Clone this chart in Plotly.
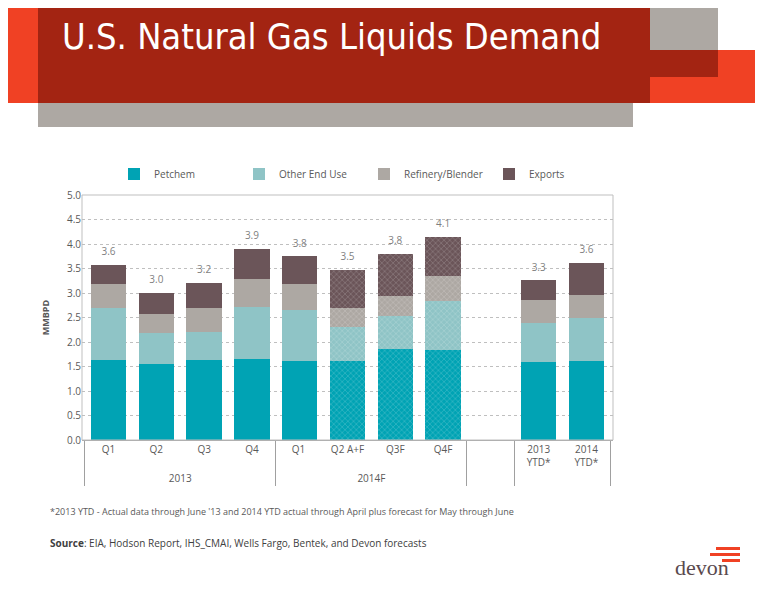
import plotly.graph_objects as go

# data
groups = ["2013"] * 4 + ["2014F"] * 4 + [" "] + ["  "] * 2
quarters = ["Q1", "Q2", "Q3", "Q4", "Q1 ", "Q2 A+F", "Q3F", "Q4F", "", "2013<br>YTD*", "2014<br>YTD*"]
petchem = [1.64, 1.56, 1.64, 1.66, 1.61, 1.61, 1.85, 1.84, None, 1.60, 1.62]
other_end_use = [1.05, 0.62, 0.57, 1.05, 1.05, 0.69, 0.69, 1.00, None, 0.79, 0.86]
refinery = [0.50, 0.40, 0.48, 0.58, 0.52, 0.40, 0.40, 0.51, None, 0.46, 0.47]
exports = [0.38, 0.42, 0.51, 0.61, 0.57, 0.77, 0.86, 0.80, None, 0.41, 0.66]
totals = ["3.6", "3.0", "3.2", "3.9", "3.8", "3.5", "3.8", "4.1", "", "3.3", "3.6"]
forecast = [False, False, False, False, False, True, True, True, False, False, False]

OFF = 8  # page body margin
W, H = 776 - OFF, 600 - OFF
L, R, T, B = 82 - OFF, 613 - OFF, 195 - OFF, 440 - OFF  # plot area in figure pixels


def px(x):
    return (x - OFF - L) / (R - L)


def py(y):
    return (B - (y - OFF)) / (B - T)


fig = go.Figure()
series = [("Petchem", petchem, "#00A3B4"), ("Other End Use", other_end_use, "#8FC4C6"),
          ("Refinery/Blender", refinery, "#ADA8A3"), ("Exports", exports, "#6B5559")]
shapes_pat = ["x" if f else "" for f in forecast]
for name, vals, col in series:
    fig.add_trace(go.Bar(
        x=[groups, quarters], y=vals, name=name,
        marker=dict(color=col, line=dict(width=0),
                    pattern=dict(shape=shapes_pat, fgcolor="white", size=4, solidity=0.15)),
        width=0.74,
    ))

tops = [sum(v for v in (a, b, c, d) if v is not None) if a is not None else 0
        for a, b, c, d in zip(petchem, other_end_use, refinery, exports)]
fig.add_trace(go.Scatter(x=[groups, quarters], y=[t + 0.25 for t in tops], text=totals,
                         mode="text", textfont=dict(color="#7F7F7F", size=10),
                         showlegend=False, hoverinfo="skip"))

shapes = [
    dict(x0=640, x1=755, y0=50, y1=103, color="#F04124"),
    dict(x0=0, x1=40, y0=8, y1=103, color="#F04124"),
    dict(x0=38, x1=633, y0=100, y1=127, color="#ADA8A3"),
    dict(x0=650, x1=718, y0=8, y1=77, color="#ADA8A3"),
    dict(x0=38, x1=650, y0=8, y1=103, color="#A32412"),
    dict(x0=640, x1=718, y0=50, y1=77, color="#A32412"),
    dict(x0=716, x1=740, y0=547, y1=550, color="#F04124"),
    dict(x0=710, x1=740, y0=553, y1=556, color="#F04124"),
    dict(x0=722, x1=740, y0=559, y1=562, color="#F04124"),
]
for s in shapes:
    fig.add_shape(type="rect", xref="paper", yref="paper", x0=px(s["x0"]), x1=px(s["x1"]),
                  y0=py(s["y1"]), y1=py(s["y0"]), fillcolor=s["color"], line=dict(width=0),
                  layer="below")
fig.add_shape(type="rect", xref="paper", yref="paper", x0=0, x1=1, y0=0, y1=1,
              line=dict(color="#BFBFBF", width=1))

fig.add_annotation(x=px(60), y=py(36), xref="paper", yref="paper", text="U.S. Natural Gas Liquids Demand",
                   showarrow=False, xanchor="left", yanchor="middle",
                   font=dict(family="DejaVu Sans Condensed, Open Sans", size=36, color="white"))
fig.add_annotation(x=px(48), y=py(520), xref="paper", yref="paper",
                   text="*2013 YTD - Actual data through June '13 and 2014 YTD actual through April plus forecast for May through June",
                   showarrow=False, xanchor="left", font=dict(size=9, color="#595959"))
fig.add_annotation(x=px(48), y=py(552), xref="paper", yref="paper",
                   text="<b>Source</b>: EIA, Hodson Report, IHS_CMAI, Wells Fargo, Bentek, and Devon forecasts",
                   showarrow=False, xanchor="left", font=dict(size=10, color="#404040"))
fig.add_annotation(x=px(702), y=py(582), xref="paper", yref="paper", text="devon",
                   showarrow=False, xanchor="center",
                   font=dict(family="Liberation Serif", size=22, color="#5A4A4E"))

fig.update_layout(
    width=W, height=H, barmode="stack", bargap=0.26,
    margin=dict(l=L, r=W - R, t=T, b=H - B, pad=0, autoexpand=False),
    paper_bgcolor="white", plot_bgcolor="white",
    font=dict(family="Open Sans", size=10, color="#595959"),
    legend=dict(orientation="h", x=px(114), y=py(174), yanchor="middle", xanchor="left",
                font=dict(size=10), itemwidth=30, traceorder="normal",
                entrywidth=80, entrywidthmode="pixels"),
    yaxis=dict(range=[0, 5], dtick=0.5, tickformat=".1f", gridcolor="#BFBFBF", griddash="dot",
               title=dict(text="<b>MMBPD</b>", font=dict(size=9)), zeroline=False,
               ticks="", showline=False, automargin=False),
    xaxis=dict(type="multicategory", showline=True, linecolor="#A0A0A0", showdividers=True,
               dividercolor="#A0A0A0", tickfont=dict(size=10), automargin=False),
)
fig.write_html("out.html")
